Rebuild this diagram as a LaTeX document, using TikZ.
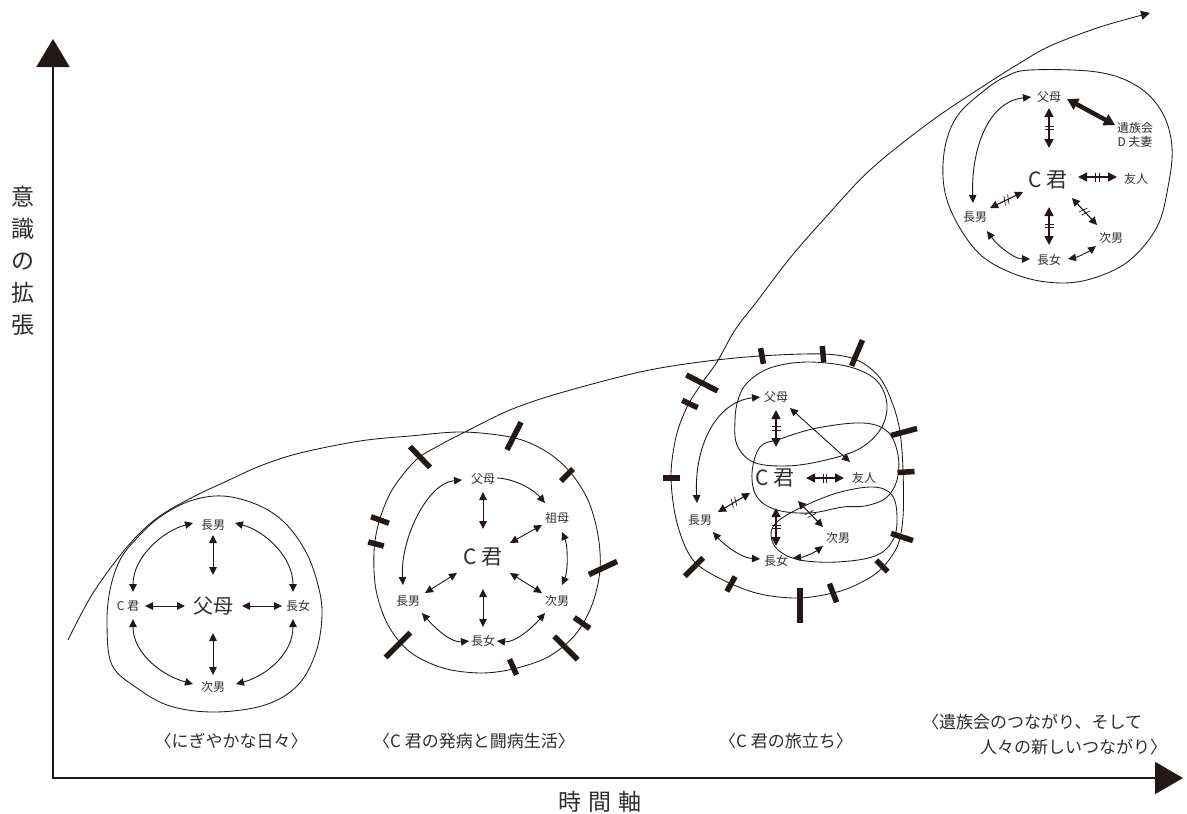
\documentclass[tikz,border=0pt]{standalone}
\usepackage{fontspec}
\newfontfamily\jp{Noto Sans CJK JP}
\usetikzlibrary{arrows.meta,calc,decorations.markings}
\definecolor{ink}{RGB}{35,24,21}
\definecolor{tx}{RGB}{50,45,45}
\newcommand\mytick[4]{\draw[tickst] ({#1-0.5*(#4)*cos(#3)},{#2-0.5*(#4)*sin(#3)}) -- ({#1+0.5*(#4)*cos(#3)},{#2+0.5*(#4)*sin(#3)});}
\tikzset{
  cv/.style={draw=ink, line width=0.85pt},
  arr/.style={draw=ink, line width=0.9pt, {Triangle[length=8pt,width=7.5pt]}-{Triangle[length=8pt,width=7.5pt]}},
  arrone/.style={draw=ink, line width=0.9pt, -{Triangle[length=8pt,width=7.5pt]}},
  arrk/.style={draw=ink, line width=1.6pt, {Triangle[length=9pt,width=9pt]}-{Triangle[length=9pt,width=9pt]}},
  arrm/.style={draw=ink, line width=1.1pt, {Triangle[length=8pt,width=8pt]}-{Triangle[length=8pt,width=8pt]}},
  arrw/.style={draw=ink, line width=4.5pt, {Triangle[length=11pt,width=12pt]}-{Triangle[length=11pt,width=12pt]}},
  eqm/.style={postaction={decorate,decoration={markings,mark=at position 0.5 with {\draw[ink,line width=0.7pt,-] (-1.7pt,-4.5pt)--(-1.7pt,4.5pt) (1.7pt,-4.5pt)--(1.7pt,4.5pt);}}}},
  slm/.style={postaction={decorate,decoration={markings,mark=at position 0.5 with {\draw[ink,line width=0.7pt,-] (-3.4pt,-4.5pt)--(-0.6pt,4.5pt) (0.6pt,-4.5pt)--(3.4pt,4.5pt);}}}},
  lb/.style={inner sep=0pt, text=tx, font=\jp\fontsize{12}{13.5}\selectfont},
  lbbig/.style={inner sep=0pt, text=tx, font=\jp\fontsize{21}{24}\selectfont},
  lbax/.style={inner sep=0pt, text=tx, font=\jp\fontsize{23}{32}\selectfont},
  captxt/.style={inner sep=0pt, text=tx, font=\jp\fontsize{17}{25}\selectfont},
  tickst/.style={draw=ink, line width=5.5pt},
}
\begin{document}
\begin{tikzpicture}[x=1pt,y=-1pt]
\fill[white] (0,0) rectangle (1187,814);
\useasboundingbox (0,0) rectangle (1187,814);

% axes
\draw[draw=ink, line width=2pt, {Triangle[length=28pt,width=33pt]}-{Triangle[length=28pt,width=32pt]}] (53,39) -- (53,778) -- (1183,778);
\node[lbax, align=center] (ylab) at (23,261) {意\\識\\の\\拡\\張};
\node[lbax] (xlab) at (600,802) {時\hspace{7pt}間\hspace{7pt}軸};

% captions
\node[captxt] (cap1) at (231,741) {〈にぎやかな日々〉};
\node[captxt] (cap2) at (474,741) {〈C 君の発病と闘病生活〉};
\node[captxt] (cap3) at (786,741) {〈C 君の旅立ち〉};
\node[captxt, align=left, anchor=west] (cap4) at (922,734.5) {〈遺族会のつながり、そして\\\hspace*{3.4em}人々の新しいつながり〉};

% main curve
\draw[cv,-{Triangle[length=9pt,width=9pt]}] plot[smooth,tension=0.55] coordinates {
(68,640) (93,593) (127,547) (157,518) (193,497) (227,481) (260,466) (300,453) (360,441) (410,436) (463,432) (515,438) (547,452) (570,472) (588,500) (598,535) (600,570) (592,605) (575,635) (548,657) (513,669) (480,673) (443,668) (410,652) (388,625) (376,590) (374,552) (379,522) (392,490) (416,460) (440,445) (463,433) (510,410) (560,393) (640,372) (700,362) (760,356) (823,354) (857,360) (880,378) (893,405) (900,432) (903,470) (903,517) (897,547) (880,570) (860,583) (837,592) (800,598) (760,594) (723,580) (693,560) (677,523) (671,477) (676,437) (687,407) (702,383) (717,362) (735,330) (758,300) (790,258) (825,218) (870,170) (930,122) (985,85) (1020,63) (1050,46) (1100,27) (1150,13)};

% cluster 1 loop
\draw[cv] plot[smooth cycle,tension=0.6] coordinates {
(112,665) (107,625) (110,590) (120,560) (137,538) (160,517) (190,501) (223,496) (258,505) (285,523) (306,552) (318,585) (322,615) (316,652) (298,685) (265,705) (215,712) (170,706) (137,688)};

% cluster 3 loops
\draw[cv] plot[smooth cycle,tension=0.6] coordinates {
(747,383) (770,368) (807,362) (850,367) (877,381) (887,405) (880,430) (857,450) (817,462) (783,466) (753,462) (737,445) (735,420) (738,400)};
\draw[cv] plot[smooth cycle,tension=0.6] coordinates {
(760,447) (780,439) (817,428) (863,423) (888,432) (898,455) (897,480) (886,498) (865,506) (843,507) (810,513) (777,510) (757,497) (752,473)};
\draw[cv] plot[smooth cycle,tension=0.6] coordinates {
(777,522) (800,508) (837,493) (873,487) (892,495) (897,517) (893,540) (875,556) (837,562) (800,560) (778,550) (771,535)};

% cluster 4 loop
\draw[cv] plot[smooth cycle,tension=0.6] coordinates {
(1030,70) (1097,72) (1137,86) (1162,112) (1172,147) (1168,187) (1157,227) (1130,260) (1097,277) (1063,283) (1023,277) (983,257) (957,223) (944,187) (945,147) (958,115) (985,90) (1005,77)};

% ticks cluster 2
\mytick{420}{457}{46}{29}
\mytick{514}{436}{-63}{31}
\mytick{567}{475}{-45}{17}
\mytick{380}{520}{20}{19}
\mytick{376}{544}{15}{16}
\mytick{603}{568}{-25}{31}
\mytick{582}{623}{35}{19}
\mytick{566}{648}{45}{33}
\mytick{513}{667}{66}{17}
\mytick{398}{645}{-45}{35}
% ticks cluster 3
\mytick{702}{383}{27}{35}
\mytick{690}{404}{25}{17}
\mytick{762}{356}{80}{16}
\mytick{823}{354}{85}{16}
\mytick{857}{353}{-67}{28}
\mytick{904}{432}{-15}{27}
\mytick{906}{472}{-3}{17}
\mytick{902}{537}{18}{23}
\mytick{882}{566}{45}{16}
\mytick{833}{593}{69}{20}
\mytick{800}{605}{90}{35}
\mytick{731}{584}{-61}{17}
\mytick{694}{567}{-45}{26}
\mytick{671}{478}{0}{17}

% ---------- cluster 1 ----------
\node[lb] (c1m) at (213,525) {長男};
\node[lb] (c1c) at (128,606) {C 君};
\node[inner sep=0pt, text=tx, font=\jp\fontsize{20}{24}\selectfont] (c1p) at (213,606) {父母};
\node[lb] (c1d) at (298,606) {長女};
\node[lb] (c1j) at (213,687) {次男};
\draw[arr] ($(c1m.center)+(0,10)$) -- ($(c1p.center)+(0,-31)$);
\draw[arr] ($(c1p.center)+(0,27)$) -- ($(c1j.center)+(0,-12)$);
\draw[arr] ($(c1c.center)+(17,0)$) -- ($(c1p.center)+(-28,0)$);
\draw[arr] ($(c1p.center)+(29,0)$) -- ($(c1d.center)+(-16,0)$);
\draw[arr] ($(c1m.center)+(-20,-2)$) .. controls +(-30,8) and +(0,-35) .. ($(c1c.center)+(5,-14)$);
\draw[arr] ($(c1m.center)+(22,-2)$) .. controls +(30,8) and +(0,-35) .. ($(c1d.center)+(-5,-14)$);
\draw[arr] ($(c1c.center)+(5,13)$) .. controls +(0,35) and +(-30,-8) .. ($(c1j.center)+(-20,-3)$);
\draw[arr] ($(c1d.center)+(-5,13)$) .. controls +(0,35) and +(30,-8) .. ($(c1j.center)+(23,-3)$);

% ---------- cluster 2 ----------
\node[lb] (c2p) at (483,479) {父母};
\node[lb] (c2g) at (557,518) {祖母};
\node[lbbig] (c2c) at (483,557) {C 君};
\node[lb] (c2m) at (408,601) {長男};
\node[lb] (c2j) at (557,601) {次男};
\node[lb] (c2d) at (483,641) {長女};
\draw[arrone] ($(c2p.center)+(14,-1)$) .. controls +(20,1) and +(-10,-12) .. ($(c2g.center)+(-12,-15)$);
\draw[arr] ($(c2p.center)+(-21,1)$) .. controls +(-35,3) and +(-3,-45) .. ($(c2m.center)+(-5,-16)$);
\draw[arr] ($(c2g.center)+(5,14)$) .. controls +(6,14) and +(6,-14) .. ($(c2j.center)+(5,-16)$);
\draw[arr] ($(c2m.center)+(14,12)$) .. controls +(12,14) and +(-18,2) .. ($(c2d.center)+(-14,0)$);
\draw[arr] ($(c2d.center)+(14,0)$) .. controls +(18,2) and +(-12,14) .. ($(c2j.center)+(-12,12)$);
\draw[arr] ($(c2p.center)+(0,13)$) -- ($(c2c.center)+(0,-28)$);
\draw[arr] ($(c2c.center)+(0,32)$) -- ($(c2d.center)+(0,-14)$);
\draw[arr] ($(c2c.center)+(27,-14)$) -- ($(c2g.center)+(-15,7)$);
\draw[arr] ($(c2c.center)+(-26,16)$) -- ($(c2m.center)+(17,-8)$);
\draw[arr] ($(c2c.center)+(27,16)$) -- ($(c2j.center)+(-15,-8)$);

% ---------- cluster 3 ----------
\node[lb] (c3p) at (776,397) {父母};
\node[lbbig] (c3c) at (775,478) {C 君};
\node[lb] (c3f) at (864,478) {友人};
\node[lb] (c3m) at (700,520) {長男};
\node[lb] (c3j) at (838,538) {次男};
\node[lb] (c3d) at (776,561) {長女};
\draw[arr] ($(c3m.center)+(-3,-17)$) .. controls +(-3,-55) and +(-45,5) .. ($(c3p.center)+(-16,0)$);
\draw[arrk,eqm] ($(c3p.center)+(0,13)$) -- ($(c3c.center)+(1,-31)$);
\draw[arr] ($(c3p.center)+(14,11)$) -- ($(c3f.center)+(-14,-16)$);
\draw[arrk,eqm] ($(c3c.center)+(31,0)$) -- ($(c3f.center)+(-20,0)$);
\draw[arrm,slm] ($(c3c.center)+(-25,15)$) -- ($(c3m.center)+(18,-8)$);
\draw[arrk,eqm] ($(c3c.center)+(1,30)$) -- ($(c3d.center)+(0,-15)$);
\draw[arrm,slm] ($(c3c.center)+(23,23)$) -- ($(c3j.center)+(-15,-11)$);
\draw[arr] ($(c3m.center)+(13,12)$) .. controls +(12,14) and +(-18,-1) .. ($(c3d.center)+(-16,-2)$);
\draw[arr] ($(c3d.center)+(17,-3)$) .. controls +(12,-1) and +(-8,6) .. ($(c3j.center)+(-15,8)$);

% ---------- cluster 4 ----------
\node[lb] (c4p) at (1049,97) {父母};
\node[lb, align=center] (c4i) at (1135,135) {遺族会\\D 夫妻};
\node[lbbig] (c4c) at (1048,180) {C 君};
\node[lb] (c4f) at (1136,179) {友人};
\node[lb] (c4m) at (975,217) {長男};
\node[lb] (c4j) at (1111,238) {次男};
\node[lb] (c4d) at (1049,260) {長女};
\draw[arr] ($(c4p.center)+(-18,0)$) .. controls +(-45,5) and +(-2,-50) .. ($(c4m.center)+(-2,-14)$);
\draw[arrw] ($(c4p.center)+(18,2)$) -- ($(c4i.center)+(-20,-10)$);
\draw[arrk,eqm] ($(c4p.center)+(0,11)$) -- ($(c4c.center)+(1,-32)$);
\draw[arrk,eqm] ($(c4c.center)+(30,-3)$) -- ($(c4f.center)+(-19,-2)$);
\draw[arrm,slm] ($(c4c.center)+(-25,12)$) -- ($(c4m.center)+(15,-9)$);
\draw[arrk,eqm] ($(c4c.center)+(1,27)$) -- ($(c4d.center)+(0,-15)$);
\draw[arrm,slm] ($(c4c.center)+(24,18)$) -- ($(c4j.center)+(-14,-13)$);
\draw[arr] ($(c4m.center)+(12,14)$) .. controls +(10,14) and +(-16,0) .. ($(c4d.center)+(-19,-1)$);
\draw[arr] ($(c4d.center)+(19,-1)$) .. controls +(10,-2) and +(-8,6) .. ($(c4j.center)+(-15,8)$);
\end{tikzpicture}
\end{document}
